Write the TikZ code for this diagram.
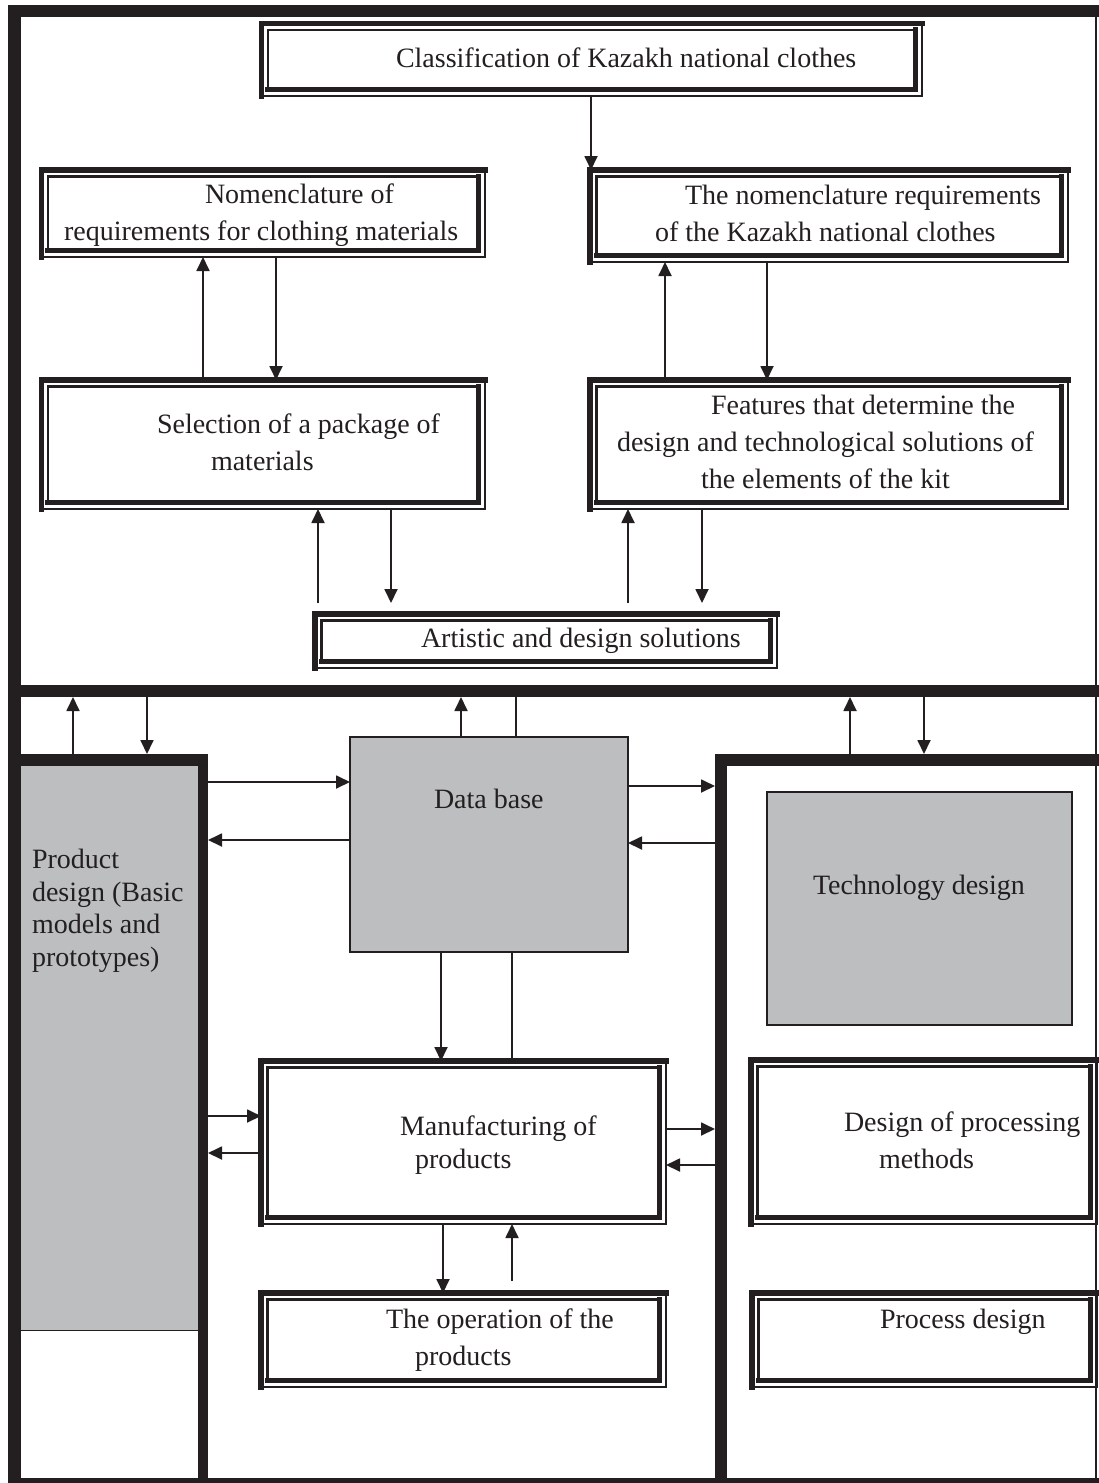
\documentclass[tikz,border=0pt]{standalone}
\usepackage{fontspec}
\setmainfont{Liberation Serif}
\usetikzlibrary{arrows.meta,calc}
\definecolor{ink}{RGB}{35,31,32}
\definecolor{panelgray}{RGB}{188,190,192}
% framed box: heavy outer top/left, light outer bottom/right,
% light inner top/left, heavy inner bottom/right
\newcommand\dframe[1]{%
  \draw[ink,line width=5.5pt,line cap=rect] (#1.south west) |- (#1.north east);
  \draw[ink,line width=2.2pt,line cap=rect] (#1.south west) -| (#1.north east);
  \draw[ink,line width=2.2pt,line cap=rect] ([xshift=6.5pt,yshift=6.5pt]#1.south west) |- ([xshift=-6.5pt,yshift=-6.5pt]#1.north east);
  \draw[ink,line width=5.5pt,line cap=rect] ([xshift=6.5pt,yshift=6.5pt]#1.south west) -| ([xshift=-6.5pt,yshift=-6.5pt]#1.north east);
}
\begin{document}
\begin{tikzpicture}[x=1pt,y=-1pt,
  every node/.style={inner sep=0pt,outer sep=0pt},
  box/.style={draw=none,rectangle},
  lbl/.style={anchor=base west,font=\fontsize{28}{34}\selectfont,text=ink},
  graybox/.style={fill=panelgray,draw=ink,line width=1.5pt},
  arr/.style={draw=ink,line width=1.8pt,-{Triangle[length=14pt,width=13pt]}},
  link/.style={draw=ink,line width=1.8pt}]
\useasboundingbox (0,0) rectangle (1099,1483);
\fill[white] (0,0) rectangle (1099,1483);

% panels
\node[box,minimum width=1091pt,minimum height=692pt] (upper) at (553.5,351) {};
\node[box,minimum width=200pt,minimum height=729pt] (pdcol) at (108,1118.5) {};
\node[box,minimum width=384pt,minimum height=729pt] (tcol) at (907,1118.5) {};

% product design column
\node[fill=panelgray,minimum width=177pt,minimum height=564pt] (pd) at (109.5,1048) {};
\draw[ink,line width=1pt] (pd.south west) -- (pd.south east);

% outer frame and panel borders
\fill[ink] (8,5) rectangle (21,1483);
\fill[ink] (8,5) rectangle (1099,17);
\fill[ink] (8,685) rectangle (1099,697);
\fill[ink] (8,1478) rectangle (1099,1483);
\draw[ink,line width=2pt] (1096,5) -- (1096,1483);
\fill[ink] (8,754) rectangle (208,766);
\fill[ink] (198,754) rectangle (208,1483);
\fill[ink] (715,754) rectangle (1099,766);
\fill[ink] (715,754) rectangle (727,1483);

% gray blocks
\node[graybox,minimum width=278pt,minimum height=215pt] (db) at (489,844.5) {};
\node[graybox,minimum width=305pt,minimum height=233pt] (td) at (919.5,908.5) {};

% framed boxes
\node[box,minimum width=660.5pt,minimum height=72.5pt] (b1) at (591.75,59.75) {};
\node[box,minimum width=443.5pt,minimum height=87pt] (b2) at (263.25,213.5) {};
\node[box,minimum width=478pt,minimum height=92pt] (b3) at (829,216) {};
\node[box,minimum width=443.5pt,minimum height=129pt] (b4) at (263.25,444.5) {};
\node[box,minimum width=478pt,minimum height=129pt] (b5) at (829,444.5) {};
\node[box,minimum width=462pt,minimum height=54pt] (b6) at (546,641) {};
\node[box,minimum width=405pt,minimum height=163pt] (b8) at (463.5,1142.5) {};
\node[box,minimum width=405pt,minimum height=94pt] (b9) at (463.5,1340) {};
\node[box,minimum width=346pt,minimum height=164pt] (b10) at (924,1142) {};
\node[box,minimum width=345pt,minimum height=94pt] (b11) at (924.5,1340) {};

% connectors, upper panel
\draw[arr] (591,0 |- b1.south) -- (591,0 |- b3.north);
\draw[arr] (203,0 |- b4.north) -- (203,0 |- b2.south);
\draw[arr] (276,0 |- b2.south) -- (276,0 |- b4.north);
\draw[arr] (665,0 |- b5.north) -- (665,0 |- b3.south);
\draw[arr] (767,0 |- b3.south) -- (767,0 |- b5.north);
\draw[arr,shorten <=11pt] (318,0 |- b6.north) -- (318,0 |- b4.south);
\draw[arr,shorten >=11pt] (391,0 |- b4.south) -- (391,0 |- b6.north);
\draw[arr,shorten <=11pt] (628,0 |- b6.north) -- (628,0 |- b5.south);
\draw[arr,shorten >=11pt] (702,0 |- b5.south) -- (702,0 |- b6.north);

% connectors, lower panel
\draw[arr] (73,0 |- pdcol.north) -- (73,0 |- upper.south);
\draw[arr] (147,0 |- upper.south) -- (147,0 |- pdcol.north);
\draw[arr] (461,0 |- db.north) -- (461,0 |- upper.south);
\draw[link] (516,0 |- upper.south) -- (516,0 |- db.north);
\draw[arr] (850,0 |- tcol.north) -- (850,0 |- upper.south);
\draw[arr] (924,0 |- upper.south) -- (924,0 |- tcol.north);
\draw[arr] (pdcol.east |- 0,782) -- (db.west |- 0,782);
\draw[arr] (db.west |- 0,840) -- (pdcol.east |- 0,840);
\draw[arr] (db.east |- 0,786) -- (tcol.west |- 0,786);
\draw[arr] (tcol.west |- 0,843) -- (db.east |- 0,843);
\draw[arr] (441,0 |- db.south) -- (441,0 |- b8.north);
\draw[link] (512,0 |- db.south) -- (512,0 |- b8.north);
\draw[arr] (pdcol.east |- 0,1116) -- (b8.west |- 0,1116);
\draw[arr] (b8.west |- 0,1153) -- (pdcol.east |- 0,1153);
\draw[arr] (b8.east |- 0,1129) -- (tcol.west |- 0,1129);
\draw[arr] (tcol.west |- 0,1165) -- (b8.east |- 0,1165);
\draw[arr] (443,0 |- b8.south) -- (443,0 |- b9.north);
\draw[arr,shorten <=12pt] (512,0 |- b9.north) -- (512,0 |- b8.south);

% frames of the boxes
\foreach \n in {b1,b2,b3,b4,b5,b6,b8,b9,b10,b11} {\dframe{\n}}

% texts
\node[lbl] (t1) at (396,67) {Classification of Kazakh national clothes};
\node[lbl] (t2a) at (205,203) {Nomenclature of};
\node[lbl] (t2b) at (64,240) {requirements for clothing materials};
\node[lbl] (t3a) at (685,204) {The nomenclature requirements};
\node[lbl] (t3b) at (655,241) {of the Kazakh national clothes};
\node[lbl] (t4a) at (157,433) {Selection of a package of};
\node[lbl] (t4b) at (211,470) {materials};
\node[lbl] (t5a) at (711,414) {Features that determine the};
\node[lbl] (t5b) at (617,451) {design and technological solutions of};
\node[lbl] (t5c) at (701,488) {the elements of the kit};
\node[lbl] (t6) at (421,647) {Artistic and design solutions};
\node[lbl] (tdb) at (434,808) {Data base};
\node[lbl] (tpa) at (32,868) {Product};
\node[lbl] (tpb) at (32,901) {design (Basic};
\node[lbl] (tpc) at (32,933) {models and};
\node[lbl] (tpd) at (32,966) {prototypes)};
\node[lbl] (ttd) at (813,894) {Technology design};
\node[lbl] (t8a) at (400,1135) {Manufacturing of};
\node[lbl] (t8b) at (415,1168) {products};
\node[lbl] (t9a) at (386,1328) {The operation of the};
\node[lbl] (t9b) at (415,1365) {products};
\node[lbl] (t10a) at (844,1131) {Design of processing};
\node[lbl] (t10b) at (879,1168) {methods};
\node[lbl] (t11) at (880,1328) {Process design};
\end{tikzpicture}
\end{document}
